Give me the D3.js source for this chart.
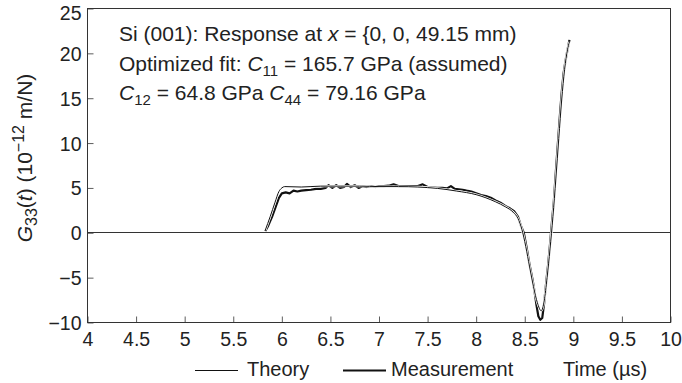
<!DOCTYPE html>
<html>
<head>
<meta charset="utf-8">
<script src="https://d3js.org/d3.v7.min.js"></script>
<style>
  body { margin: 0; background: #fff; }
  svg text { font-family: "Liberation Sans", Arial, sans-serif; fill: #222; }
</style>
</head>
<body>
<script>
// time axis (µs) and response G33 (1e-12 m/N)
var timeTheory = [5.83,5.88,5.93,5.97,6.0,6.03,6.2,6.4,6.6,6.8,7.0,7.2,7.4,7.6,7.8,8.0,8.1,8.2,8.3,8.38,8.43,8.47,8.51,8.55,8.59,8.63,8.67,8.7,8.73,8.76,8.79,8.82,8.85,8.88,8.91,8.94,8.96];
var gTheory    = [0.3,1.8,3.4,4.6,5.0,5.15,5.1,5.2,5.2,5.2,5.15,5.15,5.1,4.95,4.65,4.25,3.9,3.45,2.9,2.3,1.6,0.4,-1.5,-3.8,-6.0,-7.8,-8.7,-7.6,-5.0,-1.8,1.8,6.0,10.5,14.8,18.2,20.4,21.3];

var timeMeas = [5.83,5.86,5.9,5.94,5.97,6.0,6.04,6.08,6.12,6.16,6.2,6.25,6.3,6.35,6.4,6.45,6.48,6.52,6.56,6.6,6.64,6.67,6.71,6.75,6.79,6.83,6.87,6.92,6.96,7.0,7.05,7.1,7.15,7.2,7.3,7.4,7.45,7.5,7.55,7.6,7.65,7.7,7.74,7.78,7.82,7.86,7.9,7.95,8.0,8.05,8.1,8.15,8.2,8.25,8.3,8.35,8.39,8.43,8.46,8.49,8.52,8.55,8.58,8.6,8.62,8.64,8.66,8.68,8.7,8.72,8.74,8.76,8.78,8.8,8.82,8.84,8.86,8.88,8.9,8.92,8.94,8.96];
var gMeas    = [0.2,0.8,1.8,3.0,3.9,4.4,4.5,4.4,4.7,4.6,4.7,4.75,4.8,4.9,4.9,5.0,5.3,5.0,5.3,5.0,5.1,5.45,5.1,5.3,5.0,5.2,5.1,5.2,5.1,5.2,5.2,5.25,5.4,5.2,5.2,5.2,5.4,5.1,5.05,5.0,5.0,4.95,5.2,4.9,4.85,4.8,4.7,4.6,4.4,4.2,4.1,3.9,3.6,3.35,3.0,2.7,2.4,1.8,0.8,0.0,-1.7,-3.6,-5.2,-6.5,-8.0,-9.3,-9.7,-9.5,-7.8,-5.6,-3.6,-1.3,1.2,3.6,6.8,9.8,12.8,15.6,17.8,19.2,20.4,21.5];

var xTicks = [4,4.5,5,5.5,6,6.5,7,7.5,8,8.5,9,9.5,10];
var yTicks = [-10,-5,0,5,10,15,20,25];

var W = 682, H = 383;
var margin = {left: 87, top: 8, right: 12, bottom: 61};
var pw = W - margin.left - margin.right,
    ph = H - margin.top - margin.bottom;

var svg = d3.select("body").append("svg")
  .attr("width", W).attr("height", H);

var g = svg.append("g")
  .attr("transform", "translate(" + (margin.left + 0.5) + "," + (margin.top + 0.5) + ")");

var x = d3.scaleLinear().domain([4, 10]).range([0, pw]);
var y = d3.scaleLinear().domain([-10, 25]).range([ph, 0]);

// axes with inward ticks
var xAxis = g.append("g")
  .attr("transform", "translate(0," + ph + ")")
  .call(d3.axisBottom(x).tickValues(xTicks).tickFormat(d3.format("")).tickSizeInner(-6).tickSizeOuter(0).tickPadding(10));
var yAxis = g.append("g")
  .call(d3.axisLeft(y).tickValues(yTicks).tickFormat(d3.format("")).tickSizeInner(-6).tickSizeOuter(0).tickPadding(6));

[xAxis, yAxis].forEach(function(a) {
  a.select(".domain").remove();
  a.selectAll("line").attr("stroke", "#333").attr("stroke-width", 0.8);
  a.selectAll("text").style("font-size", "19.5px").attr("fill", "#222");
});
yAxis.selectAll("text").attr("dy", function(d) { return d === 25 ? "0.55em" : "0.36em"; });

// zero line
g.append("line")
  .attr("x1", 0).attr("x2", pw)
  .attr("y1", Math.round(y(0))).attr("y2", Math.round(y(0)))
  .attr("stroke", "#333").attr("stroke-width", 1);

// frame
g.append("rect")
  .attr("width", pw).attr("height", ph)
  .attr("fill", "none").attr("stroke", "#333").attr("stroke-width", 1);

var theory = timeTheory.map(function(t, i) { return [t, gTheory[i]]; });
var meas = timeMeas.map(function(t, i) { return [t, gMeas[i]]; });

var line = d3.line()
  .x(function(d) { return x(d[0]); })
  .y(function(d) { return y(d[1]); });

g.append("path").datum(meas)
  .attr("d", line.curve(d3.curveLinear))
  .attr("fill", "none").attr("stroke", "#111").attr("stroke-width", 2.2)
  .attr("stroke-linejoin", "round");

g.append("path").datum(theory)
  .attr("d", line.curve(d3.curveMonotoneX))
  .attr("fill", "none").attr("stroke", "#fff").attr("stroke-width", 2.4);
g.append("path").datum(theory)
  .attr("d", line.curve(d3.curveMonotoneX))
  .attr("fill", "none").attr("stroke", "#111").attr("stroke-width", 1);

// annotation text
var ann = svg.append("g").style("font-size", "21px");

var t1 = ann.append("text").attr("x", 119).attr("y", 41);
t1.append("tspan").text("Si (001): Response at ");
t1.append("tspan").style("font-style", "italic").text("x");
t1.append("tspan").text(" = {0, 0, 49.15 mm)");

var t2 = ann.append("text").attr("x", 119).attr("y", 71);
t2.append("tspan").text("Optimized fit: ");
t2.append("tspan").style("font-style", "italic").text("C");
t2.append("tspan").attr("dy", 5).style("font-size", "15px").text("11");
t2.append("tspan").attr("dy", -5).text(" = 165.7 GPa (assumed)");

var t3 = ann.append("text").attr("x", 119).attr("y", 100);
t3.append("tspan").style("font-style", "italic").text("C");
t3.append("tspan").attr("dy", 5).style("font-size", "15px").text("12");
t3.append("tspan").attr("dy", -5).text(" = 64.8 GPa ");
t3.append("tspan").style("font-style", "italic").text("C");
t3.append("tspan").attr("dy", 5).style("font-size", "15px").text("44");
t3.append("tspan").attr("dy", -5).text(" = 79.16 GPa");

// y axis title
var yl = svg.append("text")
  .attr("transform", "translate(32,158) rotate(-90)")
  .attr("text-anchor", "middle")
  .style("font-size", "21px");
yl.append("tspan").style("font-style", "italic").text("G");
yl.append("tspan").attr("dy", 5).style("font-size", "16px").text("33");
yl.append("tspan").attr("dy", -5).text("(");
yl.append("tspan").style("font-style", "italic").text("t");
yl.append("tspan").text(") (10");
yl.append("tspan").attr("dy", -8).style("font-size", "16px").text("\u221212");
yl.append("tspan").attr("dy", 8).text(" m/N)");

// legend + x title
var legendY = 370.5;
var leg = svg.append("g").style("font-size", "20px");
leg.append("line").attr("x1", 195).attr("x2", 238).attr("y1", legendY).attr("y2", legendY)
  .attr("stroke", "#111").attr("stroke-width", 1);
leg.append("text").attr("x", 247).attr("y", 376).text("Theory");
leg.append("line").attr("x1", 343).attr("x2", 386).attr("y1", legendY).attr("y2", legendY)
  .attr("stroke", "#111").attr("stroke-width", 2);
leg.append("text").attr("x", 391).attr("y", 376).text("Measurement");
leg.append("text").attr("x", 563).attr("y", 376).text("Time (\u00b5s)");
</script>
</body>
</html>
